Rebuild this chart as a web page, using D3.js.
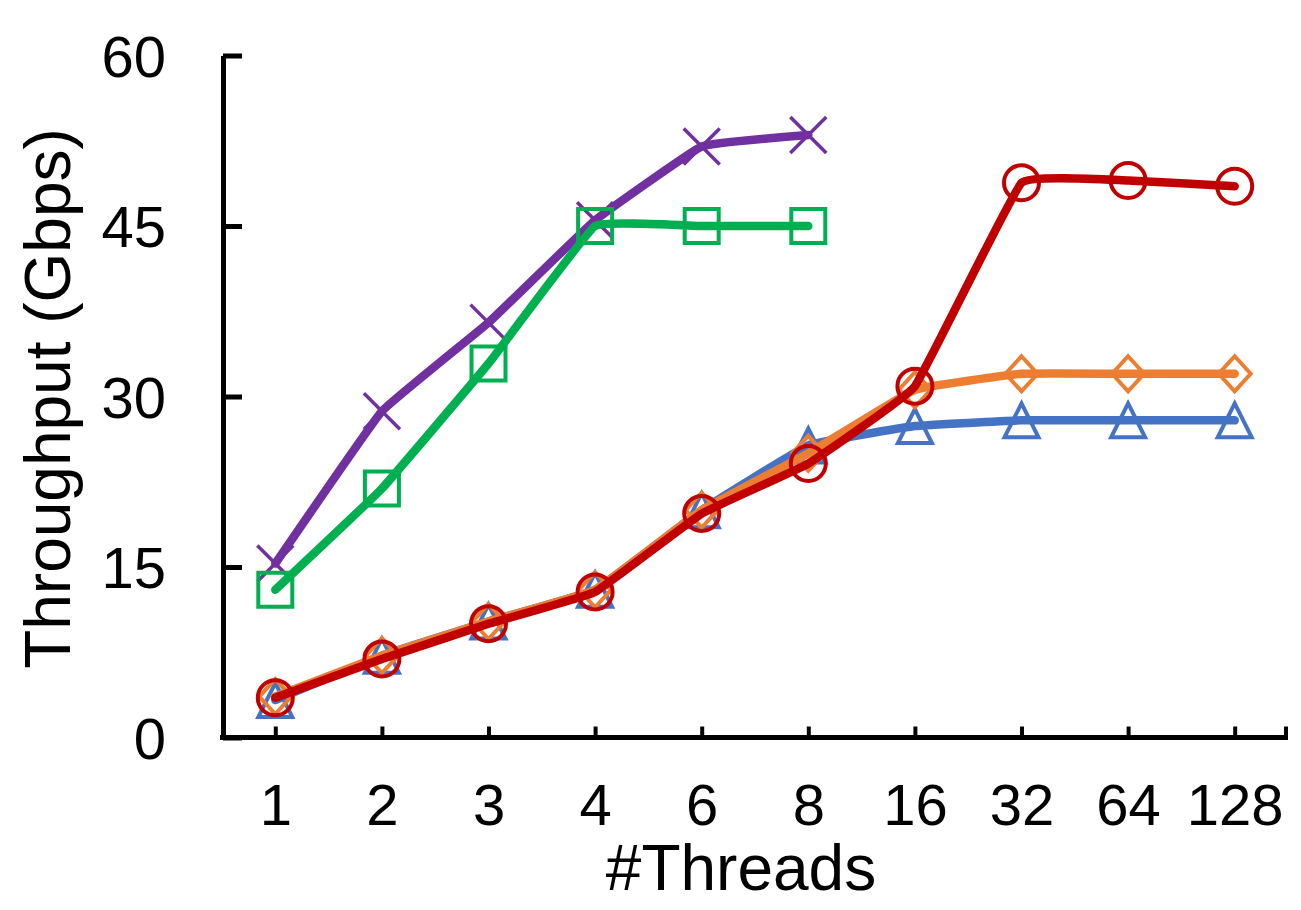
<!DOCTYPE html>
<html lang="en">

<head>
    <meta charset="UTF-8">
    <title>Throughput vs threads</title>
    <script src="https://d3js.org/d3.v7.min.js"></script>
    <style>
        body {
            margin: 0;
            background-color: #fff;
        }

        text {
            font-family: "Liberation Sans", Arial, Helvetica, sans-serif;
            fill: #000;
        }

        .axis path,
        .axis line {
            stroke: #000;
        }

        .series path.line {
            fill: none;
            stroke-linecap: round;
            stroke-linejoin: round;
        }

        .series path.mark {
            fill: none;
        }
    </style>
</head>

<body>
    <svg id="chart" width="1301" height="910"></svg>
    <script>
        // data
        var threads = ["1", "2", "3", "4", "6", "8", "16", "32", "64", "128"];
        var yTicks = [0, 15, 30, 45, 60];

        var blueVals = [3.3, 7.2, 10.2, 13.0, 20.0, 25.7, 27.4, 27.9, 27.9, 27.9];
        var orangeVals = [3.6, 7.2, 10.2, 13.0, 20.0, 25.0, 30.6, 32.0, 32.0, 32.0];
        var redVals = [3.5, 6.9, 10.0, 12.8, 19.7, 24.1, 30.9, 48.8, 49.0, 48.5];
        var greenVals = [13.0, 21.9, 32.9, 45.0, 45.0, 45.0];
        var purpleVals = [15.3, 28.7, 36.5, 45.5, 52.0, 53.0];

        // drawing order: purple, green, blue, orange, red
        var series = [
            { vals: purpleVals, color: "#7030A0", mark: "x" },
            { vals: greenVals, color: "#00B050", mark: "square" },
            { vals: blueVals, color: "#4472C4", mark: "triangle" },
            { vals: orangeVals, color: "#ED7D31", mark: "diamond" },
            { vals: redVals, color: "#C00000", mark: "circle" }
        ];

        var svg = d3.select("#chart");

        var x = d3.scalePoint()
            .domain(threads)
            .range([222, 1288])
            .padding(0.5);

        var y = d3.scaleLinear()
            .domain([0, 60])
            .range([737.5, 55.5]);

        // y axis, ticks pointing inward
        var yAxis = svg.append("g")
            .attr("class", "axis")
            .attr("transform", "translate(223,0)")
            .call(d3.axisLeft(y).tickValues(yTicks).tickSize(-19).tickSizeOuter(0).tickPadding(57));
        yAxis.select(".domain").attr("stroke-width", 5);
        yAxis.selectAll(".tick line").attr("stroke-width", 5);
        yAxis.selectAll(".tick text")
            .attr("font-size", 58)
            .attr("dy", "0.36em");

        // x axis
        var xAxis = svg.append("g")
            .attr("class", "axis")
            .attr("transform", "translate(0,737.5)")
            .call(d3.axisBottom(x).tickSize(-11).tickSizeOuter(0).tickPadding(46));
        xAxis.select(".domain")
            .attr("stroke-width", 5)
            .attr("d", "M" + (x.range()[0] - 2) + ",0H" + x.range()[1]);
        xAxis.selectAll(".tick line").attr("stroke-width", 4);
        xAxis.selectAll(".tick text")
            .attr("font-size", 58);
        // end tick at right of the axis
        xAxis.append("line")
            .attr("x1", x.range()[1] - 2)
            .attr("x2", x.range()[1] - 2)
            .attr("y1", 0)
            .attr("y2", -11)
            .attr("stroke", "#000")
            .attr("stroke-width", 4);

        // axis titles
        svg.append("text")
            .attr("transform", "translate(70," + (y(30) + 2) + ") rotate(-90)")
            .attr("text-anchor", "middle")
            .attr("font-size", 64)
            .text("Throughput (Gbps)");

        svg.append("text")
            .attr("x", 741)
            .attr("y", 890)
            .attr("text-anchor", "middle")
            .attr("font-size", 64)
            .text("#Threads");

        function markPath(kind) {
            var p = d3.path();
            if (kind == "circle") {
                p.arc(0, 0, 17.5, 0, 2 * Math.PI);
            } else if (kind == "square") {
                p.rect(-17, -17, 34, 34);
            } else if (kind == "diamond") {
                p.moveTo(0, -17.5); p.lineTo(16, 0); p.lineTo(0, 17.5); p.lineTo(-16, 0); p.closePath();
            } else if (kind == "triangle") {
                p.moveTo(0, -17); p.lineTo(17, 17); p.lineTo(-17, 17); p.closePath();
            } else {
                p.moveTo(-18, -18); p.lineTo(18, 18);
                p.moveTo(18, -18); p.lineTo(-18, 18);
            }
            return p.toString();
        }

        // mild smoothing, close to straight segments
        var line = d3.line()
            .x(function (d, i) { return x(threads[i]); })
            .y(function (d) { return y(d); })
            .curve(d3.curveCardinal.tension(0.75));

        series.forEach(function (s) {
            var g = svg.append("g").attr("class", "series");
            g.append("path")
                .attr("class", "line")
                .attr("stroke", s.color)
                .attr("stroke-width", 8.5)
                .attr("d", line(s.vals));
            g.selectAll("path.mark")
                .data(s.vals)
                .enter().append("path")
                .attr("class", "mark")
                .attr("stroke", s.color)
                .attr("stroke-width", s.mark == "x" ? 3.5 : 4)
                .attr("stroke-linejoin", "miter")
                .attr("transform", function (d, i) { return "translate(" + x(threads[i]) + "," + y(d) + ")"; })
                .attr("d", markPath(s.mark));
        });
    </script>
</body>

</html>
